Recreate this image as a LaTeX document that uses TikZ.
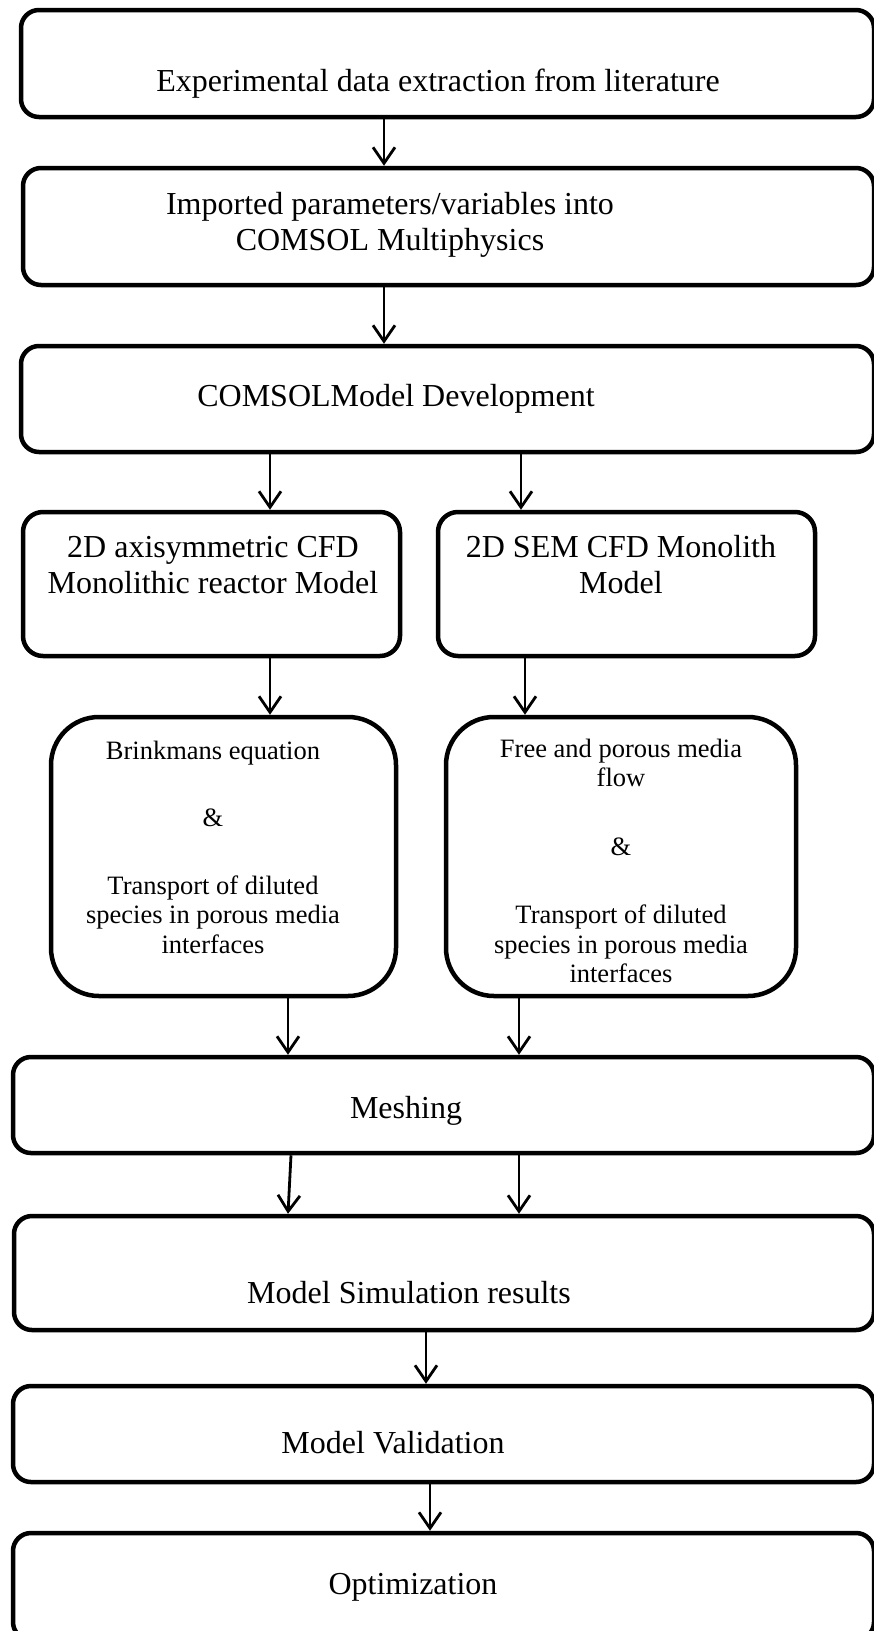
\documentclass[tikz,border=0pt]{standalone}
\usepackage{fontspec}
\setmainfont{Liberation Serif}
\usetikzlibrary{positioning,calc,arrows.meta}

\newcommand\boxfont{\fontsize{32}{36}\selectfont}
\newcommand\subfont{\fontsize{26.5}{29.5}\selectfont}

\begin{document}
\begin{tikzpicture}[x=1pt,y=-1pt,
  stage/.style={draw,line width=4.5pt,rounded corners=18pt,inner sep=0pt},
  tallstage/.style={stage,rounded corners=48pt},
  lbl/.style={align=center,font=\boxfont,inner sep=0pt},
  sublbl/.style={align=center,font=\subfont,inner sep=0pt},
  flow/.style={-{Straight Barb[length=16pt,width=22pt]},line width=2.8pt}]
\useasboundingbox (0,0) rectangle (874,1631);

% main column of stages
\node[stage,minimum width=853pt,minimum height=107pt] (extract) at (447.5,63.5) {};
\node[stage,minimum width=851pt,minimum height=117pt] (params)  at (448.5,226.5) {};
\node[stage,minimum width=853pt,minimum height=106pt] (develop) at (447.5,399) {};
\node[stage,rounded corners=20pt,minimum width=377pt,minimum height=144pt] (axi) at (211.5,584) {};
\node[stage,rounded corners=20pt,minimum width=377pt,minimum height=144pt] (sem) at (626.5,584) {};
\node[tallstage,minimum width=345pt,minimum height=279pt] (brink) at (223.5,856.5) {};
\node[tallstage,minimum width=350pt,minimum height=279pt] (porous) at (621,856.5) {};
\node[stage,minimum width=861pt,minimum height=96pt]  (mesh)    at (443.5,1105) {};
\node[stage,minimum width=860pt,minimum height=114pt] (results) at (444,1273) {};
\node[stage,minimum width=861pt,minimum height=96pt]  (valid)   at (443.5,1434) {};
\node[stage,minimum width=861pt,minimum height=107pt] (optim)   at (443.5,1586.5) {};

% texts
\node[lbl] (extract-t) at (438,84) {Experimental data extraction from literature};
\node[lbl] (params-t)  at (390,225) {Imported parameters/variables into\\COMSOL Multiphysics};
\node[lbl] (develop-t) at (396,399) {COMSOLModel Development};
\node[lbl] (axi-t) at (213,565) {2D axisymmetric CFD\\Monolithic reactor Model};
\node[lbl] (sem-t) at (621,565) {2D SEM CFD Monolith\\Model};
\node[sublbl] (brink-t) at (213,847) {Brinkmans equation\\[38pt]\&\\[38pt]Transport of diluted\\species in porous media\\interfaces};
\node[sublbl] (porous-t) at (621,861) {Free and porous media\\flow\\[39pt]\&\\[39pt]Transport of diluted\\species in porous media\\interfaces};
\node[lbl] (mesh-t)    at (406,1111) {Meshing};
\node[lbl] (results-t) at (409,1293) {Model Simulation results};
\node[lbl] (valid-t)   at (393,1443) {Model Validation};
\node[lbl] (optim-t)   at (413,1587) {Optimization};

% connectors
\draw[flow] (extract.south -| 384,0) -- (params.north -| 384,0);
\draw[flow] (params.south -| 384,0) -- (develop.north -| 384,0);
\draw[flow] (develop.south -| 270,0) -- (axi.north -| 270,0);
\draw[flow] (develop.south -| 521,0) -- (sem.north -| 521,0);
\draw[flow] (axi.south -| 270,0) -- (brink.north -| 270,0);
\draw[flow] (sem.south -| 525,0) -- (porous.north -| 525,0);
\draw[flow] (brink.south -| 288,0) -- (mesh.north -| 288,0);
\draw[flow] (porous.south -| 519,0) -- (mesh.north -| 519,0);
\draw[flow] (mesh.south -| 291,0) -- (results.north -| 288,0);
\draw[flow] (mesh.south -| 519,0) -- (results.north -| 519,0);
\draw[flow] (results.south -| 426,0) -- (valid.north -| 426,0);
\draw[flow] (valid.south -| 430,0) -- (optim.north -| 430,0);
\end{tikzpicture}
\end{document}
